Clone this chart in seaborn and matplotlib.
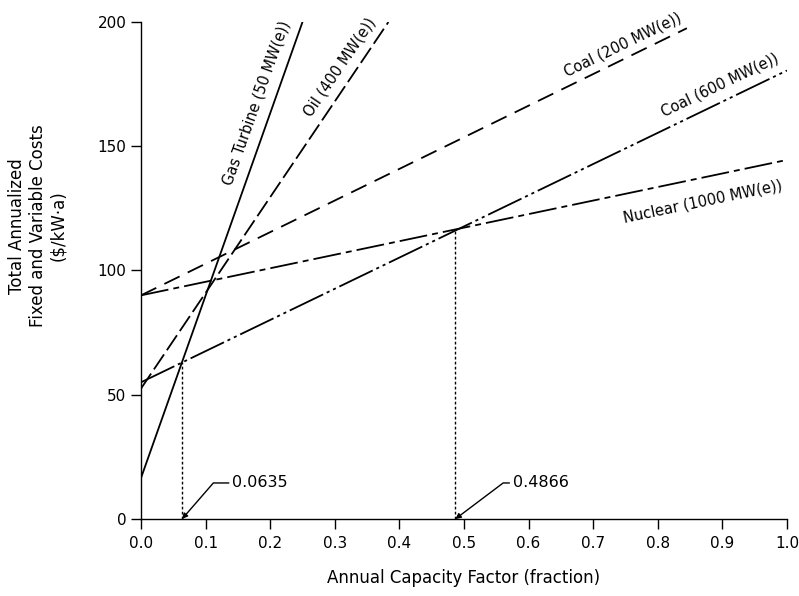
import numpy as np
import pandas as pd
import seaborn as sns
import matplotlib.pyplot as plt

# Line end points (capacity factor, $/kW·a)
plants = ["Gas Turbine (50 MW(e))", "Oil (400 MW(e))", "Coal (200 MW(e))",
          "Coal (600 MW(e))", "Nuclear (1000 MW(e))"]
cf_start = [0.0, 0.0, 0.0, 0.0, 0.0]
cf_end = [0.25, 0.383, 0.845, 1.0, 1.0]
cost_start = [16.5, 52.5, 90.0, 55.0, 90.0]
cost_end = [200.0, 200.0, 197.5, 180.5, 144.5]

# break-even points marked with dotted lines
cross_cf = [0.0635, 0.4866]
cross_cost = [63.0, 116.5]
cross_labels = ["0.0635", "0.4866"]

# line labels
label_cf = [0.179, 0.308, 0.746, 0.896, 0.869]
label_cost = [167.4, 182.0, 190.7, 174.6, 127.6]
label_rot = [70.4, 55.8, 25.9, 25.6, 11.8]

df = pd.DataFrame({
    "plant": np.repeat(plants, 2),
    "cf": np.ravel(np.column_stack([cf_start, cf_end])),
    "cost": np.ravel(np.column_stack([cost_start, cost_end])),
})

dash_map = {
    plants[0]: "",
    plants[1]: (10, 2.8),
    plants[2]: (9.4, 5),
    plants[3]: (20.5, 2.2, 1.7, 2.2, 1.7, 2.2),
    plants[4]: (15.5, 2.8, 3.3, 2.8),
}

sns.set_style("ticks")
plt.rcParams["font.family"] = ["DejaVu Sans"]
plt.rcParams["text.color"] = "black"
plt.rcParams["axes.labelcolor"] = "black"

fig = plt.figure(figsize=(7.99, 5.96), dpi=100)
ax = fig.add_axes([141 / 799, 77 / 596, 646 / 799, 497 / 596])

sns.lineplot(data=df, x="cf", y="cost", style="plant", dashes=dash_map,
             color="black", linewidth=1.3, legend=False, sort=False,
             estimator=None, ax=ax)

# dotted drop lines
ax.vlines(cross_cf, 0, cross_cost, colors="black", linewidth=1.0,
          linestyles=(0, (2, 1.6)))

# annotations for break-even values
angles = [49, 37]
text_cf = [0.141, 0.5754]
for xv, lab, ang, tx in zip(cross_cf, cross_labels, angles, text_cf):
    ax.annotate(lab, xy=(xv, 0), xytext=(tx, 14.5), ha="left", va="center",
                fontsize=11.5, color="black",
                arrowprops=dict(arrowstyle="-|>", color="black", lw=1.0,
                                shrinkA=0, shrinkB=0, mutation_scale=8,
                                relpos=(0, 0.5),
                                connectionstyle=f"angle,angleA=0,angleB={ang},rad=0"))

for name, x, y, r in zip(plants, label_cf, label_cost, label_rot):
    ax.text(x, y, name, rotation=r, rotation_mode="anchor", ha="center",
            va="center", fontsize=10.5, color="black")

ax.set_xlim(0, 1.0)
ax.set_ylim(0, 200)
ax.set_xticks(np.arange(0, 1.01, 0.1))
ax.set_xticklabels([f"{v:.1f}" for v in np.arange(0, 1.01, 0.1)])
ax.set_yticks([0, 50, 100, 150, 200])
ax.tick_params(axis="both", direction="out", length=7, width=1.0,
               labelsize=11, color="black", labelcolor="black")
ax.tick_params(axis="x", pad=5)

for side in ["top", "right"]:
    ax.spines[side].set_visible(False)
for side in ["left", "bottom"]:
    ax.spines[side].set_color("black")
    ax.spines[side].set_linewidth(1.0)

ax.set_xlabel("Annual Capacity Factor (fraction)", fontsize=12)
ax.xaxis.set_label_coords(0.5, -0.118)
ax.xaxis.label.set_va("center")
ax.set_ylabel("Total Annualized\nFixed and Variable Costs\n($/kW·a)",
              fontsize=12, linespacing=1.2, ha="center", va="center")
ax.yaxis.set_label_coords(-0.16, 0.59)

fig.savefig("out.png", dpi=100)
